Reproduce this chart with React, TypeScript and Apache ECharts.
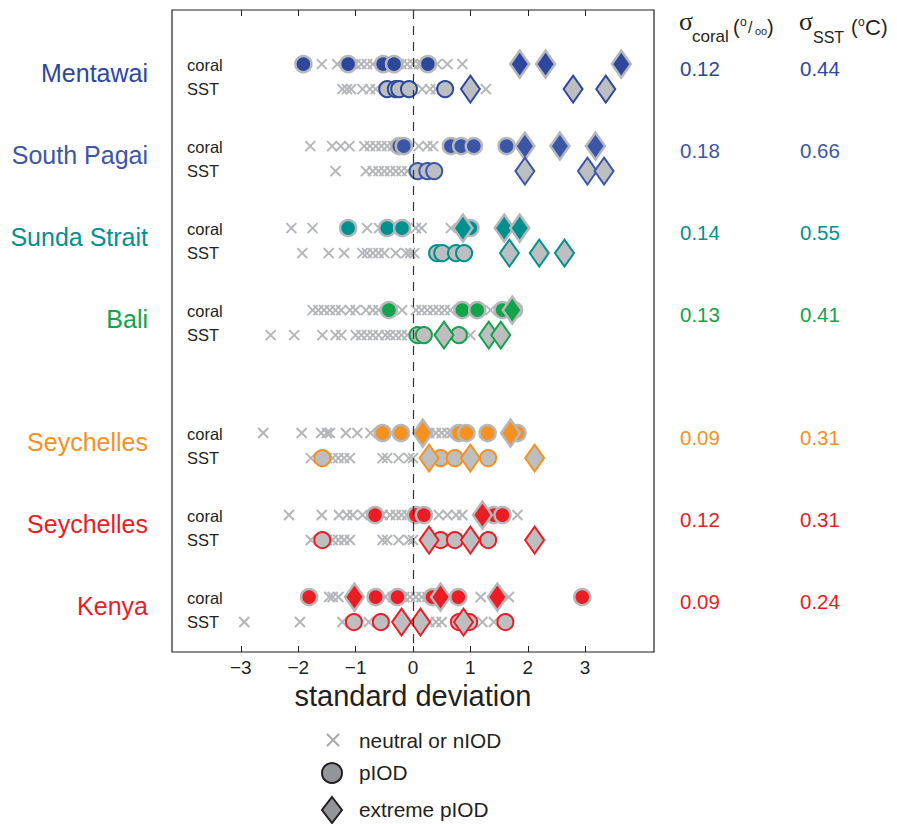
import React, { useEffect, useRef } from "react";
import * as echarts from "echarts";

// ---------- data ----------
const SITE_NAMES = ["Mentawai", "South Pagai", "Sunda Strait", "Bali", "Seychelles", "Seychelles", "Kenya"];
const SIGMA_CORAL = ["0.12", "0.18", "0.14", "0.13", "0.09", "0.12", "0.09"];
const SIGMA_SST = ["0.44", "0.66", "0.55", "0.41", "0.31", "0.31", "0.24"];
const X_TICKS = [-3, -2, -1, 0, 1, 2, 3];

// Mentawai
const mentawaiCoralNeutral = [-1.59, -1.32, -1.0, -0.9, -0.8, -0.7, -0.2, -0.1, 0.0, 0.1, 0.15, 0.42, 0.6, 0.86];
const mentawaiCoralP = [-1.91, -1.13, -0.52, -0.33, 0.26];
const mentawaiCoralExtreme = [1.86, 2.31, 3.63];
const mentawaiSstNeutral = [-1.23, -1.15, -1.08, -0.88, -0.75, -0.65, 0.16, 0.3, 0.4, 1.27];
const mentawaiSstP = [-0.45, -0.3, -0.24, -0.07, 0.56];
const mentawaiSstExtreme = [1.0, 2.79, 3.36];

// South Pagai
const pagaiCoralNeutral = [-1.79, -1.41, -1.26, -1.11, -0.85, -0.75, -0.65, -0.55, -0.45, -0.35, 0.1, 0.25, 0.35];
const pagaiCoralP = [-0.24, -0.16, 0.66, 0.84, 1.06, 1.63];
const pagaiCoralExtreme = [1.95, 2.56, 3.18];
const pagaiSstNeutral = [-1.35, -0.82, -0.7, -0.6, -0.5, -0.4, -0.3, -0.2, -0.1];
const pagaiSstP = [0.08, 0.25, 0.37];
const pagaiSstExtreme = [1.95, 3.04, 3.33];

// Sunda Strait
const sundaCoralNeutral = [-2.12, -1.75, -0.8, -0.59, 0.05, 0.15, 0.66];
const sundaCoralP = [-1.13, -0.45, -0.19, 1.0];
const sundaCoralExtreme = [0.87, 1.59, 1.86];
const sundaSstNeutral = [-1.93, -1.47, -1.2, -0.88, -0.8, -0.7, -0.6, -0.5, -0.3, -0.12, -0.05, 0.02];
const sundaSstP = [0.42, 0.51, 0.75, 0.89];
const sundaSstExtreme = [1.68, 2.2, 2.64];

// Bali
const baliCoralNeutral = [-1.75, -1.65, -1.55, -1.45, -1.35, -1.25, -1.1, -1.0, -0.82, -0.7, -0.6, -0.19, 0.05, 0.15, 0.25, 0.35, 0.45, 0.55, 0.65, 1.35];
const baliCoralP = [-0.42, 0.86, 1.12, 1.56, 1.76];
const baliCoralExtreme = [1.73];
const baliSstNeutral = [-2.48, -2.07, -1.58, -1.35, -1.25, -1.0, -0.9, -0.8, -0.7, -0.6, -0.48, -0.4, -0.3, -0.2, -0.1, 1.0];
const baliSstP = [0.08, 0.19, 0.8];
const baliSstExtreme = [0.54, 1.32, 1.53];

// Seychelles (orange)
const seyOCoralNeutral = [-2.61, -1.94, -1.6, -1.5, -1.45, -1.17, -0.97, -0.74, 0.28, 0.4, 0.5, 0.6, 0.68];
const seyOCoralP = [-0.53, -0.21, 0.8, 0.93, 1.3, 1.82];
const seyOCoralExtreme = [0.17, 1.7];
const seyOSstNeutral = [-1.78, -1.6, -1.5, -1.4, -1.3, -1.2, -1.1, -0.53, -0.45, -0.25, -0.07, 0.0];
const seyOSstP = [-1.58, 0.48, 0.73, 1.31];
const seyOSstExtreme = [0.28, 1.0, 2.12];

// Seychelles (red)
const seyRCoralNeutral = [-2.16, -1.59, -1.29, -1.15, -1.05, -0.88, -0.53, -0.4, -0.3, -0.2, -0.1, 0.45, 0.6, 0.75, 0.86, 1.82];
const seyRCoralP = [-0.66, 0.05, 0.19, 1.41, 1.56];
const seyRCoralExtreme = [1.21];
const seyRSstNeutral = [-1.78, -1.6, -1.5, -1.4, -1.3, -1.2, -1.1, -0.53, -0.45, -0.25, -0.07, 0.0];
const seyRSstP = [-1.58, 0.48, 0.73, 1.31];
const seyRSstExtreme = [0.28, 1.0, 2.12];

// Kenya
const kenyaCoralNeutral = [-1.46, -1.4, -1.3, -0.48, -0.35, -0.15, -0.05, 0.05, 0.15, 0.25, 1.18, 1.67];
const kenyaCoralP = [-1.81, -0.65, -0.27, 0.34, 0.79, 2.95];
const kenyaCoralExtreme = [-1.02, 0.48, 1.47];
const kenyaSstNeutral = [-2.94, -1.97, -1.23, -0.77, 0.28, 0.4, 0.5, 1.21, 1.41];
const kenyaSstP = [-1.03, -0.56, 0.8, 0.98, 1.61];
const kenyaSstExtreme = [-0.2, 0.13, 0.88];

const SITE_DATA = [
  [mentawaiCoralNeutral, mentawaiCoralP, mentawaiCoralExtreme, mentawaiSstNeutral, mentawaiSstP, mentawaiSstExtreme],
  [pagaiCoralNeutral, pagaiCoralP, pagaiCoralExtreme, pagaiSstNeutral, pagaiSstP, pagaiSstExtreme],
  [sundaCoralNeutral, sundaCoralP, sundaCoralExtreme, sundaSstNeutral, sundaSstP, sundaSstExtreme],
  [baliCoralNeutral, baliCoralP, baliCoralExtreme, baliSstNeutral, baliSstP, baliSstExtreme],
  [seyOCoralNeutral, seyOCoralP, seyOCoralExtreme, seyOSstNeutral, seyOSstP, seyOSstExtreme],
  [seyRCoralNeutral, seyRCoralP, seyRCoralExtreme, seyRSstNeutral, seyRSstP, seyRSstExtreme],
  [kenyaCoralNeutral, kenyaCoralP, kenyaCoralExtreme, kenyaSstNeutral, kenyaSstP, kenyaSstExtreme],
];

// ---------- layout / style ----------
const SITE_COLORS = ["#2d479c", "#3c56a7", "#00918f", "#12a34b", "#f5911f", "#ea1d25", "#ea1d25"];
const SITE_SLOTS = [0, 1, 2, 3, 4.5, 5.5, 6.5];
const SST_OFFSET = 0.305;
const GREY_FILL = "#bcbec0";
const GREY_BORDER = "#b5b7ba";
const CROSS = "#b4b6b9";
const INK = "#231f20";
const SANS = "'Liberation Sans', Arial, Helvetica, sans-serif";
const SERIF = "'Liberation Serif', 'Times New Roman', serif";

export default function App() {
  const ref = useRef<HTMLDivElement>(null);

  useEffect(() => {
    if (!ref.current) return;
    const chart = echarts.init(ref.current, undefined, { renderer: "svg" });

    const neutralData: number[][] = [];
    const circleSeries: any[] = [];
    const diamondSeries: any[] = [];

    SITE_DATA.forEach((d, i) => {
      const yc = SITE_SLOTS[i];
      const ys = SITE_SLOTS[i] + SST_OFFSET;
      const col = SITE_COLORS[i];
      d[0].forEach((x) => neutralData.push([x, yc]));
      d[3].forEach((x) => neutralData.push([x, ys]));
      circleSeries.push({
        type: "scatter",
        symbol: "circle",
        symbolSize: 16,
        data: d[1].map((x) => [x, yc]),
        itemStyle: { color: col, borderColor: GREY_BORDER, borderWidth: 2.5, opacity: 1 },
        silent: true,
      });
      circleSeries.push({
        type: "scatter",
        symbol: "circle",
        symbolSize: 16,
        data: d[4].map((x) => [x, ys]),
        itemStyle: { color: GREY_FILL, borderColor: col, borderWidth: 2, opacity: 1 },
        silent: true,
      });
      diamondSeries.push({
        type: "scatter",
        symbol: "diamond",
        symbolSize: [19, 27],
        data: d[2].map((x) => [x, yc]),
        itemStyle: { color: col, borderColor: GREY_BORDER, borderWidth: 2.5, opacity: 1 },
        silent: true,
      });
      diamondSeries.push({
        type: "scatter",
        symbol: "diamond",
        symbolSize: [19, 27],
        data: d[5].map((x) => [x, ys]),
        itemStyle: { color: GREY_FILL, borderColor: col, borderWidth: 2, opacity: 1 },
        silent: true,
      });
    });

    const option: any = {
      animation: false,
      backgroundColor: "#ffffff",
      textStyle: { fontFamily: SANS },
      grid: {
        left: 172,
        top: 10,
        width: 482,
        height: 642,
        show: true,
        borderColor: "#231f20",
        borderWidth: 1.2,
        backgroundColor: "transparent",
      },
      xAxis: [
        {
          type: "value",
          position: "bottom",
          min: -4.2,
          max: 4.2,
          axisLine: { show: false, onZero: false },
          splitLine: { show: false },
          axisTick: { show: true, inside: true, length: 6, customValues: X_TICKS, lineStyle: { color: INK, width: 1 } },
          axisLabel: {
            show: true,
            customValues: X_TICKS,
            fontSize: 19,
            color: INK,
            margin: 6,
            fontFamily: SANS,
            formatter: (v: number) => String(v).replace("-", "\u2212"),
          },
          name: "standard deviation",
          nameLocation: "middle",
          nameGap: 21,
          nameTextStyle: { fontSize: 29, color: INK, fontFamily: SANS, verticalAlign: "top" },
        },
        {
          type: "value",
          position: "top",
          min: -4.2,
          max: 4.2,
          axisLine: { show: false, onZero: false },
          splitLine: { show: false },
          axisTick: { show: true, inside: true, length: 6, customValues: X_TICKS, lineStyle: { color: INK, width: 1 } },
          axisLabel: { show: false },
        },
      ],
      yAxis: { type: "value", inverse: true, min: -0.66, max: 7.17, show: false, axisLine: { onZero: false } },
      series: [
        {
          type: "scatter",
          symbol: "path://M0,0L10,10M0,10L10,0",
          symbolSize: 10,
          data: neutralData,
          itemStyle: { color: "rgba(0,0,0,0)", borderColor: CROSS, borderWidth: 2, opacity: 1 },
          silent: true,
          markLine: {
            silent: true,
            symbol: ["none", "none"],
            label: { show: false },
            lineStyle: { type: [9, 7], color: "#333333", width: 1.2 },
            data: [{ xAxis: 0 }],
          },
        },
        ...circleSeries,
        ...diamondSeries,
      ],
    };
    chart.setOption(option);

    const graphic: any[] = [];
    SITE_NAMES.forEach((name, i) => {
      const yc = chart.convertToPixel({ yAxisIndex: 0 }, SITE_SLOTS[i]) as number;
      const ys = chart.convertToPixel({ yAxisIndex: 0 }, SITE_SLOTS[i] + SST_OFFSET) as number;
      const col = SITE_COLORS[i];
      graphic.push({
        type: "text", x: 148, y: yc + 9,
        style: { text: name, fill: col, font: `25px ${SANS}`, textAlign: "right", textVerticalAlign: "middle" },
      });
      graphic.push({
        type: "text", x: 187, y: yc + 1,
        style: { text: "coral", fill: INK, font: `16.5px ${SANS}`, textAlign: "left", textVerticalAlign: "middle" },
      });
      graphic.push({
        type: "text", x: 187, y: ys,
        style: { text: "SST", fill: INK, font: `16.5px ${SANS}`, textAlign: "left", textVerticalAlign: "middle" },
      });
      graphic.push({
        type: "text", x: 680, y: yc + 4,
        style: { text: SIGMA_CORAL[i], fill: col, font: `20.5px ${SANS}`, textAlign: "left", textVerticalAlign: "middle" },
      });
      graphic.push({
        type: "text", x: 800, y: yc + 4,
        style: { text: SIGMA_SST[i], fill: col, font: `20.5px ${SANS}`, textAlign: "left", textVerticalAlign: "middle" },
      });
    });

    const hdr = (text: string, x: number, y: number, font: string) => ({
      type: "text", x, y,
      style: { text, fill: INK, font, textAlign: "left", textVerticalAlign: "bottom" },
    });
    // sigma coral header
    graphic.push(hdr("\u03c3", 679, 34, `26px ${SERIF}`));
    graphic.push(hdr("coral", 692, 45, `17px ${SANS}`));
    graphic.push(hdr("(", 733, 37, `20px ${SANS}`));
    graphic.push(hdr("o", 740, 28, `12px ${SANS}`));
    graphic.push(hdr("/", 748, 35, `16px ${SANS}`));
    graphic.push(hdr("oo", 755, 36, `11px ${SANS}`));
    graphic.push(hdr(")", 767, 37, `20px ${SANS}`));
    // sigma SST header
    graphic.push(hdr("\u03c3", 799, 34, `26px ${SERIF}`));
    graphic.push(hdr("SST", 813, 45, `16px ${SANS}`));
    graphic.push(hdr("(", 851, 37, `20px ${SANS}`));
    graphic.push(hdr("o", 858, 28, `12px ${SANS}`));
    graphic.push(hdr("C", 865, 38, `22px ${SANS}`));
    graphic.push(hdr(")", 881, 37, `20px ${SANS}`));

    // legend
    graphic.push({ type: "line", shape: { x1: 327, y1: 734, x2: 339, y2: 746 }, style: { stroke: "#a7a9ac", lineWidth: 2 } });
    graphic.push({ type: "line", shape: { x1: 339, y1: 734, x2: 327, y2: 746 }, style: { stroke: "#a7a9ac", lineWidth: 2 } });
    graphic.push({ type: "text", x: 359, y: 740, style: { text: "neutral or nIOD", fill: INK, font: `20.8px ${SANS}`, textVerticalAlign: "middle" } });
    graphic.push({ type: "circle", shape: { cx: 332, cy: 773, r: 10 }, style: { fill: "#939598", stroke: INK, lineWidth: 2 } });
    graphic.push({ type: "text", x: 359, y: 772, style: { text: "pIOD", fill: INK, font: `20.8px ${SANS}`, textVerticalAlign: "middle" } });
    graphic.push({
      type: "polygon",
      shape: { points: [[332, 797], [342, 810], [332, 823], [322, 810]] },
      style: { fill: "#939598", stroke: INK, lineWidth: 2 },
    });
    graphic.push({ type: "text", x: 359, y: 809, style: { text: "extreme pIOD", fill: INK, font: `20.8px ${SANS}`, textVerticalAlign: "middle" } });

    chart.setOption({ graphic });

    return () => chart.dispose();
  }, []);

  return (
    <div
      ref={ref}
      style={{ position: "absolute", left: 0, top: 0, width: 897, height: 824, background: "#fff" }}
    />
  );
}
